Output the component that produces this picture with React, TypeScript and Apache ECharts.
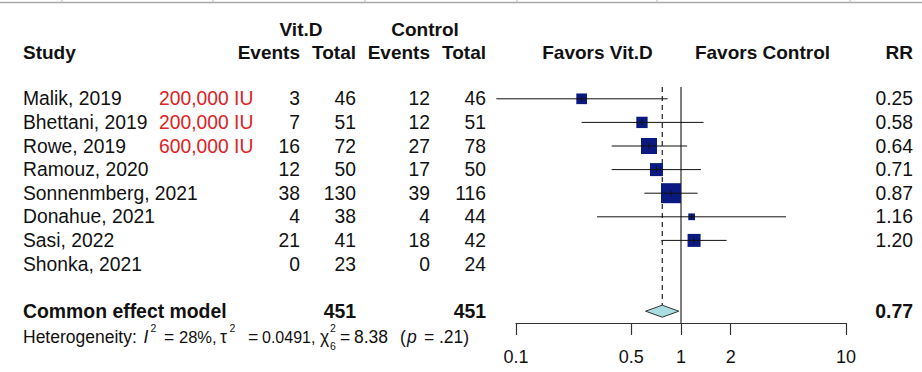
import { useEffect, useRef } from 'react';
import * as echarts from 'echarts';

// ---------- data ----------
const studies = ['Malik, 2019', 'Bhettani, 2019', 'Rowe, 2019', 'Ramouz, 2020', 'Sonnenmberg, 2021', 'Donahue, 2021', 'Sasi, 2022', 'Shonka, 2021'];
const doses = ['200,000 IU', '200,000 IU', '600,000 IU', '', '', '', '', ''];
const vitdEvents = [3, 7, 16, 12, 38, 4, 21, 0];
const vitdTotal = [46, 51, 72, 50, 130, 38, 41, 23];
const ctrlEvents = [12, 12, 27, 17, 39, 4, 18, 0];
const ctrlTotal = [46, 51, 78, 50, 116, 44, 42, 24];
const rrValues: (number | null)[] = [0.25, 0.58, 0.64, 0.71, 0.87, 1.16, 1.2, null];
const ciLower: (number | null)[] = [0.076, 0.25, 0.38, 0.38, 0.6, 0.31, 0.76, null];
const ciUpper: (number | null)[] = [0.83, 1.37, 1.09, 1.32, 1.26, 4.33, 1.89, null];
const weights = [8.9, 10.0, 20.0, 13.2, 31.2, 3.5, 13.2, 0];

const commonLabel = 'Common effect model';
const commonRR = 0.77;
const commonLower = 0.61;
const commonUpper = 0.97;
const commonVitdTotal = 451;
const commonCtrlTotal = 451;
const commonRow = 9;

const tickValues = [0.1, 0.5, 1, 2, 10];

// ---------- styles ----------
const FONT = '"Liberation Sans", Arial, Helvetica, sans-serif';
const INK = '#111111';
const RED = '#dd2222';
const NAVY = '#0b1a80';
const FS = 19.3;
const FSB = 19;
const FSH = 17.5;
const FSN = 16.5;
const FSS = 10.5;

const COL = { study: 23, dose: 159, ve: 300, vt: 356, ce: 430, ct: 486, rr: 913 };

function t(x: number, y: number, text: string, o: any = {}) {
  const align = o.align || 'left';
  return {
    type: 'text',
    x,
    y,
    silent: true,
    style: {
      text,
      fill: o.fill || INK,
      fontSize: o.fontSize || FS,
      fontFamily: FONT,
      fontWeight: o.bold ? 'bold' : 'normal',
      fontStyle: o.italic ? 'italic' : 'normal',
      align,
      textAlign: align,
      verticalAlign: 'middle',
      textVerticalAlign: 'middle',
    },
  };
}

export default function App() {
  const ref = useRef<HTMLDivElement>(null);
  useEffect(() => {
    const chart = echarts.init(ref.current!, null, { renderer: 'svg' });

    const forestData: number[][] = [];
    rrValues.forEach((v, i) => {
      if (v != null) forestData.push([i, v, ciLower[i] as number, ciUpper[i] as number, weights[i]]);
    });
    const maxW = Math.max(...weights);
    const BOX_MAX = 20;

    const headerY1 = 29;
    const headerY2 = 52;
    const hetY = 337;
    const supY = 327.5;
    const subY = 346;

    const graphics: any[] = [
      // top border strip
      { type: 'line', silent: true, shape: { x1: 0, y1: 2.5, x2: 922, y2: 2.5 }, style: { stroke: '#a8a8a8', lineWidth: 1.5 } },
      ...[62, 213, 365, 517, 657, 850].map((x) => ({
        type: 'line', silent: true, shape: { x1: x, y1: 0, x2: x, y2: 2.5 }, style: { stroke: '#bbbbbb', lineWidth: 1 },
      })),
      // headers
      t(301, headerY1, 'Vit.D', { bold: true, fontSize: FSB, align: 'center' }),
      t(425, headerY1, 'Control', { bold: true, fontSize: FSB, align: 'center' }),
      t(COL.study, headerY2, 'Study', { bold: true, fontSize: FSB }),
      t(COL.ve, headerY2, 'Events', { bold: true, fontSize: FSB, align: 'right' }),
      t(COL.vt, headerY2, 'Total', { bold: true, fontSize: FSB, align: 'right' }),
      t(COL.ce, headerY2, 'Events', { bold: true, fontSize: FSB, align: 'right' }),
      t(COL.ct, headerY2, 'Total', { bold: true, fontSize: FSB, align: 'right' }),
      t(597.5, headerY2, 'Favors Vit.D', { bold: true, fontSize: FSB, align: 'center' }),
      t(762.5, headerY2, 'Favors Control', { bold: true, fontSize: FSB, align: 'center' }),
      t(COL.rr, headerY2, 'RR', { bold: true, fontSize: FSB, align: 'right' }),
      // heterogeneity
      t(23, hetY, 'Heterogeneity:', { fontSize: FSH }),
      t(143.5, hetY, 'I', { fontSize: FSH, italic: true }),
      t(150.5, supY, '2', { fontSize: FSS }),
      t(164, hetY, '=', { fontSize: FSH }),
      t(179, hetY, '28%,', { fontSize: FSN }),
      t(220, hetY, 'τ', { fontSize: FSH }),
      t(229.5, supY, '2', { fontSize: FSS }),
      t(248, hetY, '=', { fontSize: FSH }),
      t(262, hetY, '0.0491,', { fontSize: 16 }),
      t(320, hetY, 'χ', { fontSize: FSH }),
      t(330, supY, '2', { fontSize: FSS }),
      t(330, subY, '6', { fontSize: FSS }),
      t(340, hetY, '=', { fontSize: FSH }),
      t(354, hetY, '8.38', { fontSize: FSH }),
      t(400, hetY, '(', { fontSize: FSH }),
      t(407, hetY, 'p', { fontSize: FSH, italic: true }),
      t(424, hetY, '=', { fontSize: FSH }),
      t(439, hetY, '.21)', { fontSize: FSH }),
    ];

    const option: any = {
      animation: false,
      backgroundColor: '#ffffff',
      grid: { left: 516, right: 76, top: 87, height: 236, containLabel: false },
      xAxis: {
        type: 'log',
        logBase: 10,
        min: 0.1,
        max: 10,
        axisLine: { show: true, onZero: false, lineStyle: { color: '#333333', width: 1.2 } },
        axisTick: { show: true, customValues: tickValues, length: 12, inside: false, lineStyle: { color: '#333333', width: 1.2 } },
        axisLabel: {
          show: true,
          customValues: tickValues,
          margin: 25,
          fontSize: 18,
          fontFamily: FONT,
          color: INK,
          formatter: (v: number) => String(+Number(v).toPrecision(3)),
        },
        splitLine: { show: false },
        minorTick: { show: false },
      },
      yAxis: { type: 'value', inverse: true, min: -0.5, max: 9.5, show: false },
      graphic: graphics,
      series: [
        {
          type: 'custom',
          name: 'reference',
          data: [[1, 0]],
          encode: { x: 0, y: 1 },
          z: 1,
          renderItem: (_p: any, api: any) => {
            const top1 = api.coord([1, -0.5]);
            const bot1 = api.coord([1, 9.5]);
            const topC = api.coord([commonRR, -0.5]);
            const botC = api.coord([commonRR, commonRow]);
            return {
              type: 'group',
              children: [
                { type: 'line', shape: { x1: top1[0], y1: top1[1], x2: bot1[0], y2: bot1[1] }, style: { stroke: '#555555', lineWidth: 1.5 } },
                { type: 'line', shape: { x1: topC[0], y1: topC[1], x2: botC[0], y2: botC[1] - 6 }, style: { stroke: '#222222', lineWidth: 1.2, lineDash: [5, 4] } },
              ],
            };
          },
        },
        {
          type: 'custom',
          name: 'studies',
          data: forestData,
          encode: { x: [1, 2, 3], y: 0 },
          z: 3,
          renderItem: (_p: any, api: any) => {
            const y = api.value(0);
            const e = api.coord([api.value(1), y]);
            const l = api.coord([api.value(2), y]);
            const h = api.coord([api.value(3), y]);
            const s = BOX_MAX * Math.sqrt(api.value(4) / maxW);
            return {
              type: 'group',
              children: [
                { type: 'rect', shape: { x: e[0] - s / 2, y: e[1] - s / 2, width: s, height: s }, style: { fill: NAVY } },
                { type: 'line', shape: { x1: l[0], y1: l[1], x2: h[0], y2: h[1] }, style: { stroke: INK, lineWidth: 1 } },
                { type: 'line', shape: { x1: e[0], y1: e[1] - 3, x2: e[0], y2: e[1] + 3 }, style: { stroke: INK, lineWidth: 1 } },
              ],
            };
          },
        },
        {
          type: 'custom',
          name: 'common',
          data: [[commonRow, commonRR, commonLower, commonUpper]],
          encode: { x: [1, 2, 3], y: 0 },
          z: 3,
          renderItem: (_p: any, api: any) => {
            const y = api.value(0);
            const e = api.coord([api.value(1), y]);
            const l = api.coord([api.value(2), y]);
            const h = api.coord([api.value(3), y]);
            return {
              type: 'polygon',
              shape: { points: [[l[0], l[1]], [e[0], e[1] - 6], [h[0], h[1]], [e[0], e[1] + 6]] },
              style: { fill: '#aadde2', stroke: '#333333', lineWidth: 1 },
            };
          },
        },
        {
          type: 'custom',
          name: 'table',
          data: studies.map((_s, i) => [1, i]),
          encode: { x: 0, y: 1 },
          z: 4,
          renderItem: (p: any, api: any) => {
            const i = p.dataIndex;
            const y = api.coord([1, api.value(1)])[1];
            const rr = rrValues[i];
            return {
              type: 'group',
              children: [
                t(COL.study, y, studies[i]),
                t(COL.dose, y, doses[i], { fill: RED }),
                t(COL.ve, y, String(vitdEvents[i]), { align: 'right' }),
                t(COL.vt, y, String(vitdTotal[i]), { align: 'right' }),
                t(COL.ce, y, String(ctrlEvents[i]), { align: 'right' }),
                t(COL.ct, y, String(ctrlTotal[i]), { align: 'right' }),
                t(COL.rr, y, rr == null ? '' : rr.toFixed(2), { align: 'right' }),
              ],
            };
          },
        },
        {
          type: 'custom',
          name: 'commonTable',
          data: [[1, commonRow]],
          encode: { x: 0, y: 1 },
          z: 4,
          renderItem: (_p: any, api: any) => {
            const y = api.coord([1, api.value(1)])[1];
            return {
              type: 'group',
              children: [
                t(COL.study, y, commonLabel, { bold: true, fontSize: 19.4 }),
                t(COL.vt, y, String(commonVitdTotal), { bold: true, fontSize: 19.4, align: 'right' }),
                t(COL.ct, y, String(commonCtrlTotal), { bold: true, fontSize: 19.4, align: 'right' }),
                t(COL.rr, y, commonRR.toFixed(2), { bold: true, fontSize: 19.4, align: 'right' }),
              ],
            };
          },
        },
      ],
    };

    chart.setOption(option);
    return () => chart.dispose();
  }, []);

  return (
    <div
      ref={ref}
      style={{ position: 'fixed', left: 0, top: 0, width: 922, height: 372, background: '#ffffff' }}
    />
  );
}
